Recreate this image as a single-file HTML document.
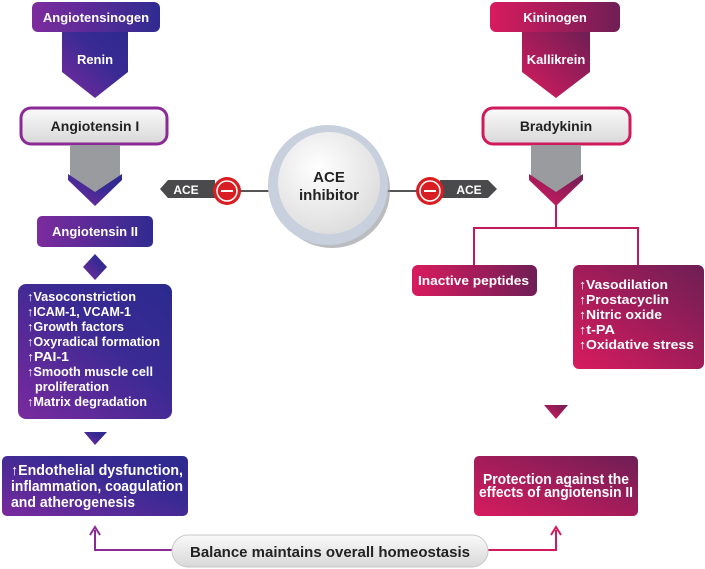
<!DOCTYPE html>
<html><head><meta charset="utf-8"><style>
html,body{margin:0;padding:0;background:#fff;}
svg{display:block;font-family:"Liberation Sans",sans-serif;font-weight:bold;}
</style></head><body>
<svg width="705" height="569" viewBox="0 0 705 569" xmlns="http://www.w3.org/2000/svg">
<defs>
<linearGradient id="pu" x1="0" y1="1" x2="1" y2="0"><stop offset="0" stop-color="#7a2a9e"/><stop offset="0.6" stop-color="#3a2a93"/><stop offset="1" stop-color="#2b2a8e"/></linearGradient>
<linearGradient id="pu2" x1="0" y1="0" x2="1" y2="0"><stop offset="0" stop-color="#7d2b9d"/><stop offset="1" stop-color="#302b91"/></linearGradient>
<linearGradient id="pk" x1="0" y1="1" x2="1" y2="0"><stop offset="0" stop-color="#d81b5e"/><stop offset="1" stop-color="#6e1e55"/></linearGradient>
<linearGradient id="pk2" x1="0" y1="0" x2="1" y2="0"><stop offset="0" stop-color="#d81b5e"/><stop offset="1" stop-color="#701e56"/></linearGradient>
<linearGradient id="gr" x1="0" y1="0" x2="0" y2="1"><stop offset="0" stop-color="#fafafa"/><stop offset="1" stop-color="#d8d8d8"/></linearGradient>
<radialGradient id="ci" cx="0.4" cy="0.35" r="0.7"><stop offset="0" stop-color="#ffffff"/><stop offset="1" stop-color="#dcdcdc"/></radialGradient>
</defs>

<!-- LEFT column -->
<rect x="32" y="2" width="128" height="30" rx="6" fill="url(#pu2)"/>
<text x="96" y="22" fill="#fff" font-size="13" text-anchor="middle">Angiotensinogen</text>
<path d="M62 32 H128 V72 L95 98 L62 72 Z" fill="url(#pu)"/>
<text x="95" y="64" fill="#fff" font-size="13" text-anchor="middle">Renin</text>
<rect x="21" y="108" width="146" height="36" rx="10" fill="url(#gr)" stroke="#8a2a95" stroke-width="3"/>
<text x="95" y="131" fill="#222" font-size="14" text-anchor="middle">Angiotensin I</text>
<path d="M70 145 H120 V182 L95 197 L70 182 Z" fill="#9a9b9f"/>
<path d="M68 174 L95 192 L122 174 L122 180 L95 206 L68 180 Z" fill="url(#pu)"/>
<rect x="37" y="216" width="116" height="31" rx="5" fill="url(#pu2)"/>
<text x="95" y="236" fill="#fff" font-size="13" text-anchor="middle">Angiotensin II</text>
<path d="M95 254 L107 267 L95 280 L83 267 Z" fill="url(#pu)"/>
<rect x="18" y="284" width="154" height="135" rx="8" fill="url(#pu)"/>
<g fill="#fff" font-size="12.5">
<text x="27" y="301" textLength="109" lengthAdjust="spacingAndGlyphs">↑Vasoconstriction</text>
<text x="27" y="316" textLength="104" lengthAdjust="spacingAndGlyphs">↑ICAM-1, VCAM-1</text>
<text x="27" y="331" textLength="97" lengthAdjust="spacingAndGlyphs">↑Growth factors</text>
<text x="27" y="346" textLength="133" lengthAdjust="spacingAndGlyphs">↑Oxyradical formation</text>
<text x="27" y="361" textLength="42" lengthAdjust="spacingAndGlyphs">↑PAI-1</text>
<text x="27" y="376" textLength="126" lengthAdjust="spacingAndGlyphs">↑Smooth muscle cell</text>
<text x="35" y="391" textLength="74" lengthAdjust="spacingAndGlyphs">proliferation</text>
<text x="27" y="406" textLength="120" lengthAdjust="spacingAndGlyphs">↑Matrix degradation</text>
</g>
<path d="M84 432 H107 L95 445 Z" fill="url(#pu)"/>
<rect x="2" y="456" width="186" height="60" rx="5" fill="url(#pu)"/>
<g fill="#fff" font-size="14.5">
<text x="11" y="475" textLength="172" lengthAdjust="spacingAndGlyphs">↑Endothelial dysfunction,</text>
<text x="11" y="491" textLength="172" lengthAdjust="spacingAndGlyphs">inflammation, coagulation</text>
<text x="11" y="507" textLength="124" lengthAdjust="spacingAndGlyphs">and atherogenesis</text>
</g>

<!-- RIGHT column -->
<rect x="490" y="2" width="130" height="30" rx="6" fill="url(#pk2)"/>
<text x="555" y="22" fill="#fff" font-size="13" text-anchor="middle">Kininogen</text>
<path d="M522 32 H590 V72 L556 98 L522 72 Z" fill="url(#pk)"/>
<text x="556" y="64" fill="#fff" font-size="13" text-anchor="middle">Kallikrein</text>
<rect x="483" y="108" width="147" height="36" rx="10" fill="url(#gr)" stroke="#d01a5c" stroke-width="3"/>
<text x="556" y="131" fill="#222" font-size="14" text-anchor="middle">Bradykinin</text>
<path d="M531 145 H581 V182 L556 197 L531 182 Z" fill="#9a9b9f"/>
<path d="M529 174 L556 192 L583 174 L583 180 L556 206 L529 180 Z" fill="url(#pk)"/>
<path d="M556 205 V228 M474 265 V228 H638 V265" stroke="#c41a5a" stroke-width="2" fill="none"/>
<rect x="412" y="265" width="125" height="31" rx="6" fill="url(#pk2)"/>
<text x="418" y="285" fill="#fff" font-size="13" textLength="111" lengthAdjust="spacingAndGlyphs">Inactive peptides</text>
<rect x="573" y="265" width="131" height="104" rx="6" fill="url(#pk)"/>
<g fill="#fff" font-size="13">
<text x="579" y="289" textLength="89" lengthAdjust="spacingAndGlyphs">↑Vasodilation</text>
<text x="579" y="304" textLength="90" lengthAdjust="spacingAndGlyphs">↑Prostacyclin</text>
<text x="579" y="319" textLength="83" lengthAdjust="spacingAndGlyphs">↑Nitric oxide</text>
<text x="579" y="334" textLength="36" lengthAdjust="spacingAndGlyphs">↑t-PA</text>
<text x="579" y="349" textLength="115" lengthAdjust="spacingAndGlyphs">↑Oxidative stress</text>
</g>
<path d="M544 405 H568 L556 419 Z" fill="url(#pk)"/>
<rect x="474" y="456" width="164" height="60" rx="5" fill="url(#pk)"/>
<g fill="#fff" font-size="14.5">
<text x="483" y="484" textLength="146" lengthAdjust="spacingAndGlyphs">Protection against the</text>
<text x="479" y="497" textLength="154" lengthAdjust="spacingAndGlyphs">effects of angiotensin II</text>
</g>

<!-- ACE inhibitor -->
<line x1="212" y1="191" x2="440" y2="191" stroke="#555" stroke-width="2"/>
<circle cx="332" cy="190" r="58" fill="#8c8f96" opacity="0.6"/>
<circle cx="328" cy="185" r="60" fill="#c7d0dc"/>
<circle cx="329" cy="183" r="51" fill="url(#ci)"/>
<text x="329" y="182" fill="#222" font-size="15" text-anchor="middle">ACE</text>
<text x="329" y="200" fill="#222" font-size="15" text-anchor="middle">inhibitor</text>
<path d="M160 189 L168 180 H215 V198 H168 Z" fill="#4a4a4c"/>
<text x="186" y="194" fill="#fff" font-size="12" text-anchor="middle">ACE</text>
<circle cx="227" cy="191" r="14" fill="#d81e22"/>
<circle cx="227" cy="191" r="10" fill="none" stroke="#fff" stroke-width="1.5"/>
<line x1="221" y1="191" x2="233" y2="191" stroke="#fff" stroke-width="2"/>
<path d="M440 180 H488 L497 189 L488 198 H440 Z" fill="#4a4a4c"/>
<text x="469" y="194" fill="#fff" font-size="12" text-anchor="middle">ACE</text>
<circle cx="430" cy="191" r="14" fill="#d81e22"/>
<circle cx="430" cy="191" r="10" fill="none" stroke="#fff" stroke-width="1.5"/>
<line x1="424" y1="191" x2="436" y2="191" stroke="#fff" stroke-width="2"/>

<!-- Balance -->
<path d="M95 530 V550 H175" stroke="#8a2a95" stroke-width="2" fill="none"/>
<path d="M90 535 L95 527 L100 535" stroke="#8a2a95" stroke-width="2" fill="none"/>
<path d="M485 550 H556 V530" stroke="#d01a5c" stroke-width="2" fill="none"/>
<path d="M551 535 L556 527 L561 535" stroke="#d01a5c" stroke-width="2" fill="none"/>
<rect x="172" y="535" width="316" height="32" rx="16" fill="url(#gr)" stroke="#c8c8c8" stroke-width="1"/>
<text x="190" y="557" fill="#222" font-size="15" textLength="280" lengthAdjust="spacingAndGlyphs">Balance maintains overall homeostasis</text>
</svg>
</body></html>
